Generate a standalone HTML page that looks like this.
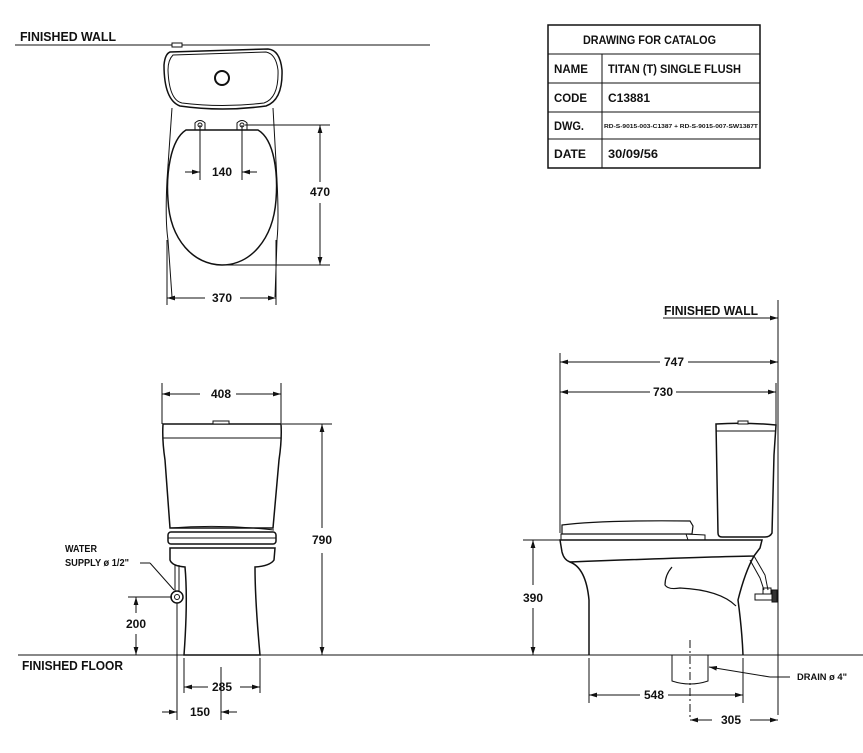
<!DOCTYPE html>
<html><head><meta charset="utf-8"><style>
html,body{margin:0;padding:0;background:#fff;}
svg{display:block;}
text{font-family:"Liberation Sans Narrow","Liberation Sans",sans-serif;font-weight:bold;fill:#111;}
</style></head><body>
<svg width="863" height="753" viewBox="0 0 863 753" xmlns="http://www.w3.org/2000/svg">
<defs>
<marker id="a" viewBox="0 0 10 6" refX="10" refY="3" markerWidth="8" markerHeight="5" orient="auto-start-reverse" markerUnits="userSpaceOnUse"><path d="M0,0 L10,3 L0,6 z" fill="#111"/></marker>
</defs>
<g stroke="#111" fill="none" stroke-width="1">
<!-- TOP VIEW -->
<line x1="15" y1="45" x2="430" y2="45"/>
<rect x="172" y="43" width="10" height="4" fill="#fff"/>
<path d="M170,52 Q165,54 164,65 Q164,100 180,106 Q222,112 266,106 Q283,100 282,70 Q280,50 268,49 Z" stroke-width="1.5"/>
<path d="M173,55 Q168,60 168,70 Q169,100 182,103 Q222,108 264,103 Q279,98 278,70 Q276,54 266,52 Z"/>
<circle cx="222" cy="78" r="7" stroke-width="2"/>
<path d="M172,108 L167,180 Q165,220 168,240 L172,297"/>
<path d="M273,108 L277,180 Q279,220 277,240 L275,297"/>
<path d="M186,130 L258,130 C275,140 278,175 276,200 C273,240 250,265 222,265 C194,265 170,240 168,200 C166,175 170,140 186,130 Z" stroke-width="1.5"/>
<path d="M195,130 L195,123 Q200,118 205,123 L205,130 M237,130 L237,123 Q242,118 247,123 L247,130"/>
<circle cx="200" cy="125" r="2"/><circle cx="242" cy="125" r="2"/>
<line x1="200" y1="125" x2="200" y2="180"/><line x1="242" y1="125" x2="242" y2="180"/>
<line x1="185" y1="172" x2="200" y2="172" marker-end="url(#a)"/>
<line x1="257" y1="172" x2="242" y2="172" marker-end="url(#a)"/>
<line x1="245" y1="125" x2="330" y2="125"/><line x1="222" y1="265" x2="330" y2="265"/>
<line x1="320" y1="182" x2="320" y2="125" marker-end="url(#a)"/>
<line x1="320" y1="203" x2="320" y2="265" marker-end="url(#a)"/>
<line x1="167" y1="240" x2="167" y2="305"/><line x1="276" y1="240" x2="276" y2="305"/>
<line x1="205" y1="298" x2="167" y2="298" marker-end="url(#a)"/>
<line x1="240" y1="298" x2="276" y2="298" marker-end="url(#a)"/>
<!-- TABLE -->
<rect x="548" y="25" width="212" height="143" stroke-width="1.5"/>
<line x1="548" y1="54" x2="760" y2="54"/><line x1="548" y1="83" x2="760" y2="83"/>
<line x1="548" y1="112" x2="760" y2="112"/><line x1="548" y1="139" x2="760" y2="139"/>
<line x1="602" y1="54" x2="602" y2="168"/>
<!-- FRONT VIEW -->
<line x1="162" y1="383" x2="162" y2="424"/><line x1="281" y1="383" x2="281" y2="424"/>
<line x1="200" y1="394" x2="162" y2="394" marker-end="url(#a)"/>
<line x1="236" y1="394" x2="281" y2="394" marker-end="url(#a)"/>
<path d="M163,424 L281,424 Q282,440 279,460 L273,528 L170,528 L165,460 Q162,440 163,424 Z" stroke-width="1.5"/>
<line x1="163" y1="438" x2="281" y2="438"/>
<rect x="213" y="421" width="16" height="3" fill="#fff"/>
<path d="M170,528 Q222,524 274,530"/>
<rect x="168" y="532" width="108" height="12" rx="3" stroke-width="1.5"/>
<line x1="168" y1="538" x2="276" y2="538"/>
<path d="M170,548 L275,548 L274,560 Q270,566 255,567 Q255,600 260,655 L184,655 Q188,600 185,567 Q172,566 170,560 Z" stroke-width="1.5"/>
<line x1="282" y1="424" x2="332" y2="424"/>
<line x1="322" y1="528" x2="322" y2="424" marker-end="url(#a)"/>
<line x1="322" y1="553" x2="322" y2="655" marker-end="url(#a)"/>
<line x1="18" y1="655" x2="863" y2="655"/>
<path d="M175,565 L175,592 M179,565 L179,592"/>
<circle cx="177" cy="597" r="6" stroke-width="1.5"/><circle cx="177" cy="597" r="2.5"/>
<line x1="140" y1="563" x2="150" y2="563"/><line x1="150" y1="563" x2="174" y2="590"/>
<line x1="128" y1="597" x2="172" y2="597"/>
<line x1="136" y1="613" x2="136" y2="597" marker-end="url(#a)"/>
<line x1="136" y1="634" x2="136" y2="655" marker-end="url(#a)"/>
<line x1="177" y1="603" x2="177" y2="720"/>
<line x1="184" y1="658" x2="184" y2="693"/><line x1="260" y1="658" x2="260" y2="693"/>
<line x1="221" y1="667" x2="221" y2="720"/>
<line x1="208" y1="687" x2="184" y2="687" marker-end="url(#a)"/>
<line x1="240" y1="687" x2="260" y2="687" marker-end="url(#a)"/>
<line x1="162" y1="712" x2="177" y2="712" marker-end="url(#a)"/>
<line x1="237" y1="712" x2="221" y2="712" marker-end="url(#a)"/>
<!-- SIDE VIEW -->
<line x1="778" y1="300" x2="778" y2="715"/>
<line x1="663" y1="318" x2="778" y2="318" marker-end="url(#a)"/>
<line x1="560" y1="353" x2="560" y2="533"/>
<line x1="660" y1="362" x2="560" y2="362" marker-end="url(#a)"/>
<line x1="688" y1="362" x2="778" y2="362" marker-end="url(#a)"/>
<line x1="776" y1="383" x2="776" y2="425"/>
<line x1="650" y1="392" x2="560" y2="392" marker-end="url(#a)"/>
<line x1="676" y1="392" x2="776" y2="392" marker-end="url(#a)"/>
<path d="M716,424 Q745,422 776,425 L774,455 L772,533 Q770,537 765,537 L722,537 Q718,537 718,533 Z" stroke-width="1.5"/>
<line x1="716" y1="431" x2="776" y2="431"/>
<rect x="738" y="421" width="10" height="3" fill="#fff"/>
<path d="M562,525 Q600,520 690,521 L693,526 L692,534 L562,534 Z" stroke-width="1.2"/>
<path d="M561,534 L686,534 L688,540 L561,540 Z"/>
<path d="M686,534 L705,535 L705,540"/>
<path d="M560,540 L762,540 L760,548 L754,556 Q700,557 570,562 Q564,560 562,552 Z" stroke-width="1.5"/>
<path d="M570,562 Q586,568 589,600 L589,655 M754,556 Q745,572 738,600 Q742,630 743,655" stroke-width="1.5"/>
<path d="M672,567 Q665,575 665,585 Q668,590 680,588 Q720,590 736,606" stroke-width="1.2"/>
<path d="M754,556 L765,575 L768,590 M750,560 L760,578 L764,590"/>
<rect x="763" y="588" width="8" height="6"/><rect x="755" y="594" width="18" height="6"/>
<rect x="772" y="590" width="5" height="12" fill="#333"/>
<line x1="523" y1="540" x2="560" y2="540"/>
<line x1="533" y1="585" x2="533" y2="540" marker-end="url(#a)"/>
<line x1="533" y1="608" x2="533" y2="655" marker-end="url(#a)"/>
<path d="M672,655 L672,681 Q690,687 708,681 L708,655"/>
<line x1="690" y1="640" x2="690" y2="720" stroke-dasharray="8,3,2,3"/>
<path d="M770,677 L790,677"/><line x1="770" y1="677" x2="709" y2="667" marker-end="url(#a)"/>
<line x1="589" y1="658" x2="589" y2="703"/><line x1="743" y1="658" x2="743" y2="703"/>
<line x1="640" y1="695" x2="589" y2="695" marker-end="url(#a)"/>
<line x1="668" y1="695" x2="743" y2="695" marker-end="url(#a)"/>
<line x1="712" y1="720" x2="690" y2="720" marker-end="url(#a)"/>
<line x1="750" y1="720" x2="778" y2="720" marker-end="url(#a)"/>
</g>
<text x="20" y="41" font-size="13" textLength="96" lengthAdjust="spacingAndGlyphs">FINISHED WALL</text>
<text x="222" y="176" font-size="12" text-anchor="middle">140</text>
<text x="320" y="196" font-size="12" text-anchor="middle">470</text>
<text x="222" y="302" font-size="12" text-anchor="middle">370</text>
<text x="583" y="44" font-size="12" textLength="133" lengthAdjust="spacingAndGlyphs">DRAWING FOR CATALOG</text>
<text x="554" y="73" font-size="12" textLength="34" lengthAdjust="spacingAndGlyphs">NAME</text><text x="608" y="73" font-size="12" textLength="133" lengthAdjust="spacingAndGlyphs">TITAN (T) SINGLE FLUSH</text>
<text x="554" y="102" font-size="12" textLength="33" lengthAdjust="spacingAndGlyphs">CODE</text><text x="608" y="102" font-size="12" textLength="42" lengthAdjust="spacingAndGlyphs">C13881</text>
<text x="554" y="130" font-size="12" textLength="30" lengthAdjust="spacingAndGlyphs">DWG.</text><text x="604" y="128" font-size="5.5" textLength="154" lengthAdjust="spacingAndGlyphs">RD-S-9015-003-C1387 + RD-S-9015-007-SW1387T</text>
<text x="554" y="158" font-size="12" textLength="32" lengthAdjust="spacingAndGlyphs">DATE</text><text x="608" y="158" font-size="12" textLength="50" lengthAdjust="spacingAndGlyphs">30/09/56</text>
<text x="221" y="398" font-size="12" text-anchor="middle">408</text>
<text x="322" y="544" font-size="12" text-anchor="middle">790</text>
<text x="65" y="552" font-size="10" textLength="32" lengthAdjust="spacingAndGlyphs">WATER</text>
<text x="65" y="566" font-size="10" textLength="64" lengthAdjust="spacingAndGlyphs">SUPPLY ø 1/2"</text>
<text x="136" y="628" font-size="12" text-anchor="middle">200</text>
<text x="22" y="670" font-size="13" textLength="101" lengthAdjust="spacingAndGlyphs">FINISHED FLOOR</text>
<text x="222" y="691" font-size="12" text-anchor="middle">285</text>
<text x="200" y="716" font-size="12" text-anchor="middle">150</text>
<text x="664" y="315" font-size="13" textLength="94" lengthAdjust="spacingAndGlyphs">FINISHED WALL</text>
<text x="674" y="366" font-size="12" text-anchor="middle">747</text>
<text x="663" y="396" font-size="12" text-anchor="middle">730</text>
<text x="533" y="602" font-size="12" text-anchor="middle">390</text>
<text x="797" y="680" font-size="9" textLength="50" lengthAdjust="spacingAndGlyphs">DRAIN ø 4"</text>
<text x="654" y="699" font-size="12" text-anchor="middle">548</text>
<text x="731" y="724" font-size="12" text-anchor="middle">305</text>
</svg>
</body></html>
